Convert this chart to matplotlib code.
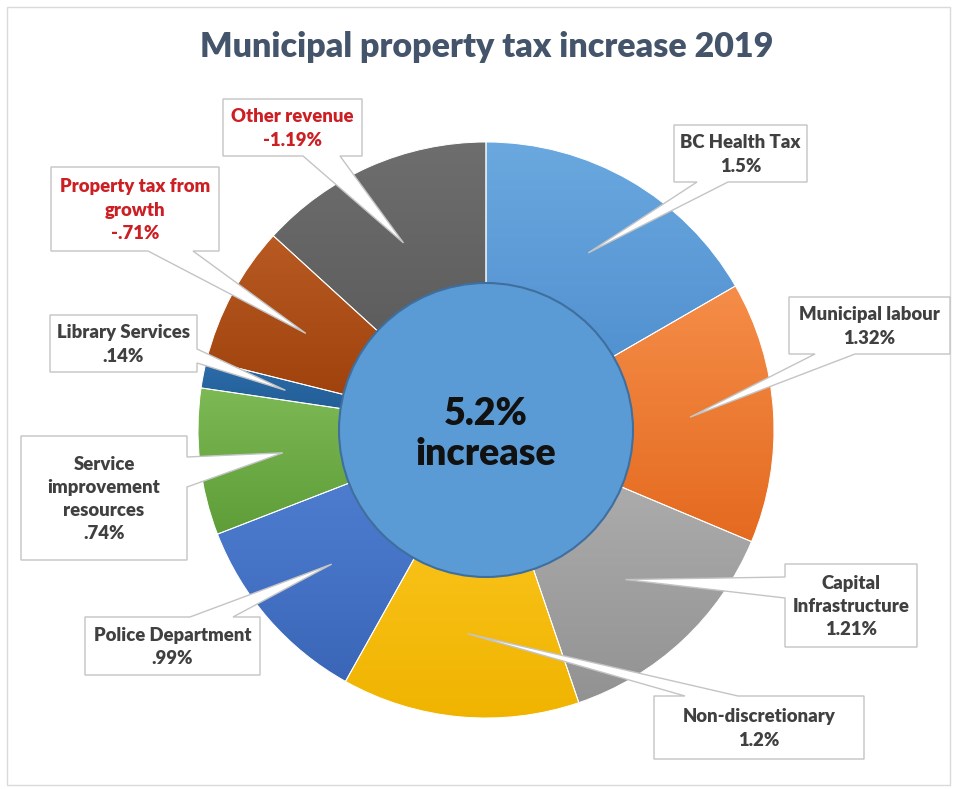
import numpy as np
import matplotlib.pyplot as plt
from matplotlib.colors import LinearSegmentedColormap
from matplotlib.patches import Circle, Polygon, Rectangle

plt.rcParams['font.family'] = ['Lato', 'DejaVu Sans']

W, H = 954, 789

# slices in clockwise order from 12 o'clock
names = ["BC Health Tax", "Municipal labour", "Capital\nInfrastructure",
         "Non-discretionary", "Police Department", "Service\nimprovement\nresources",
         "Library Services", "Property tax from\ngrowth", "Other revenue"]
values = [1.5, 1.32, 1.21, 1.2, 0.99, 0.74, 0.14, -0.71, -1.19]
total_increase = 5.2

# gradient (top, bottom) for each slice
shades = [("#6AA8DF", "#4A8ACB"), ("#F58D48", "#E46A1F"), ("#B2B2B2", "#929292"),
          ("#FFCB2A", "#F0B400"), ("#5283D6", "#3B66B8"), ("#7DB954", "#5E9D38"),
          ("#2C6DAA", "#1F5890"), ("#B85A22", "#9A3D08"), ("#6E6E6E", "#555555")]

# callout boxes: (x0, y0, x1, y1), side the pointer leaves from, pointer base
boxes = [((674, 125, 807, 182), "bottom", (697, 728)),
         ((789, 297, 950, 354), "bottom", (815, 855)),
         ((785, 564, 917, 647), "left", (577, 598)),
         ((654, 696, 864, 759), "top", (685, 738)),
         ((85, 617, 260, 675), "top", (190, 233)),
         ((21, 436, 187, 560), "right", (457, 487)),
         ((50, 315, 197, 372), "right", (349, 363)),
         ((51, 167, 219, 251), "bottom", (148, 193)),
         ((223, 99, 362, 156), "bottom", (303, 340))]

cx, cy, R = 486, 430, 288
hole_r = 147


def fmt(v):
    s = f"{v:g}"
    if abs(v) < 1:
        s = s.replace("0.", ".", 1)
    return s + "%"


def callout(ax, box, side, base, tip):
    x0, y0, x1, y1 = box
    a, b = base
    pts = [(x0, y0)]
    if side == "top":
        pts += [(a, y0), tip, (b, y0)]
    pts.append((x1, y0))
    if side == "right":
        pts += [(x1, a), tip, (x1, b)]
    pts.append((x1, y1))
    if side == "bottom":
        pts += [(b, y1), tip, (a, y1)]
    pts.append((x0, y1))
    if side == "left":
        pts += [(x0, b), tip, (x0, a)]
    ax.add_patch(Polygon(pts, closed=True, facecolor="white", edgecolor="#C4C4C4",
                         linewidth=1.0, zorder=5))


fig = plt.figure(figsize=(W / 100, H / 100), dpi=100)
ax = fig.add_axes([0, 0, 1, 1])

sizes = [abs(v) for v in values]
wedges, _ = ax.pie(sizes, colors=[s[0] for s in shades], startangle=-90,
                   counterclock=True, radius=R, center=(cx, cy),
                   wedgeprops=dict(edgecolor="white", linewidth=0.7))

# vertical gradient fill clipped to each wedge
grad = np.linspace(0, 1, 256).reshape(-1, 1)
for w, (top, bot) in zip(wedges, shades):
    ext = w.get_path().get_extents()
    cmap = LinearSegmentedColormap.from_list("g", [top, bot])
    im = ax.imshow(grad, cmap=cmap, aspect="auto", interpolation="bilinear",
                   extent=(ext.x0, ext.x1, ext.y1, ext.y0), zorder=1)
    im.set_clip_path(w)
    w.set_facecolor("none")
    w.set_zorder(2)

ax.add_patch(Circle((cx, cy), hole_r, facecolor="#5B9BD5", edgecolor="#3F6F9E",
                    linewidth=1.5, zorder=3))
ax.text(cx, cy + 4, f"{total_increase:g}%\nincrease", ha="center", va="center",
        fontsize=27, fontweight="heavy", color="#111111", linespacing=1.2, zorder=4)

# pointers end at 71% of the radius on each slice's mid angle
cum = np.cumsum([0] + sizes)
tot = sum(sizes)
for i, (name, v) in enumerate(zip(names, values)):
    mid = np.deg2rad(-90 + (cum[i] + cum[i + 1]) / 2 / tot * 360)
    tip = (cx + 0.71 * R * np.cos(mid), cy + 0.71 * R * np.sin(mid))
    box, side, base = boxes[i]
    callout(ax, box, side, base, tip)
    color = "#CC1F24" if v < 0 else "#404040"
    ax.text((box[0] + box[2]) / 2, (box[1] + box[3]) / 2 + 1, f"{name}\n{fmt(v)}",
            ha="center", va="center", fontsize=13.3, fontweight="heavy", color=color,
            linespacing=1.45, zorder=6)

ax.text(487, 47, "Municipal property tax increase 2019", ha="center", va="center",
        fontsize=24.5, fontweight="heavy", color="#44546A")

ax.add_patch(Rectangle((7, 7), 943, 778, facecolor="none", edgecolor="#DADADA",
                       linewidth=1.0, zorder=0))

ax.set_xlim(0, W)
ax.set_ylim(H, 0)
ax.set_aspect("equal")
ax.axis("off")

fig.savefig("out.png", dpi=100, facecolor="white")
